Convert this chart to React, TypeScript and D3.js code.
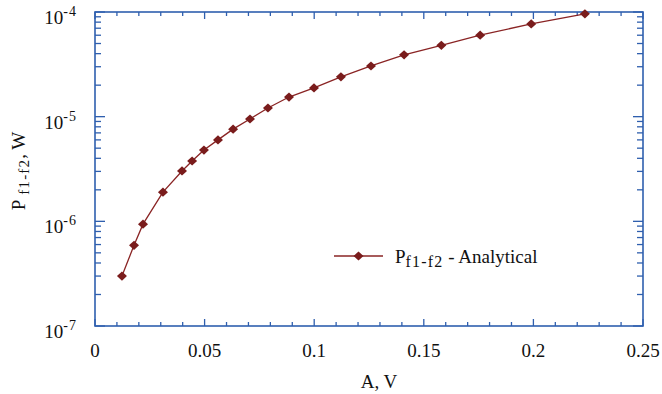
import React from "react";
import * as d3 from "d3";

// Data
const amplitudeV = [0.0123, 0.0178, 0.0219, 0.031, 0.0397, 0.0443, 0.0497, 0.0561, 0.063, 0.0707, 0.0789, 0.0885, 0.0999, 0.1122, 0.1259, 0.141, 0.158, 0.1757, 0.199, 0.2235];
const powerW = [3.0e-7, 5.9e-7, 9.4e-7, 1.9e-6, 3.03e-6, 3.77e-6, 4.8e-6, 6.0e-6, 7.6e-6, 9.5e-6, 1.21e-5, 1.54e-5, 1.88e-5, 2.4e-5, 3.05e-5, 3.9e-5, 4.8e-5, 6.0e-5, 7.7e-5, 9.6e-5];
const xTickValues = [0, 0.05, 0.1, 0.15, 0.2, 0.25];
const xTickLabels = ["0", "0.05", "0.1", "0.15", "0.2", "0.25"];
const yTickExponents = [-7, -6, -5, -4];
const yTickLabels = ["-7", "-6", "-5", "-4"];
const legendLabel = ["P", "f1-f2", " - Analytical"];

const W = 662;
const H = 394;
const left = 95, right = 643, top = 12, bottom = 326;
const AXIS = "#2f5fae";
const LINE = "#8a2424";
const MARK = "#7a1c1c";
const FONT = "Liberation Serif, Times New Roman, serif";

const diamond = (cx: number, cy: number, hw = 5, hh = 4.6) =>
  `M${cx},${cy - hh}L${cx + hw},${cy}L${cx},${cy + hh}L${cx - hw},${cy}Z`;

export default function App() {
  const x = d3.scaleLinear().domain([0, 0.25]).range([left, right]);
  const y = d3.scaleLog().domain([1e-7, 1e-4]).range([bottom, top]);

  const pts = amplitudeV.map((a, i) => [a, powerW[i]] as [number, number]);
  const line = d3.line<[number, number]>().x((d) => x(d[0])).y((d) => y(d[1]));

  const xMinor = d3.range(0, 26).map((i) => i / 100).filter((v) => Math.round(v * 100) % 5 !== 0);
  const yMinor: number[] = [];
  for (let k = -7; k < -4; k++) for (let m = 2; m <= 9; m++) yMinor.push(m * Math.pow(10, k));

  const legY = 256;
  const legX0 = 334, legX1 = 383;

  return (
    <svg width={W} height={H} style={{ position: "absolute", left: 0, top: 0, background: "#fff", fontFamily: FONT }}>
      <rect x={0} y={0} width={W} height={H} fill="#fff" />
      {/* ticks */}
      <g stroke={AXIS} strokeWidth={1.3}>
        {xTickValues.map((v) => (
          <g key={"xM" + v}>
            <line x1={x(v)} x2={x(v)} y1={bottom} y2={bottom - 7} />
            <line x1={x(v)} x2={x(v)} y1={top} y2={top + 7} />
          </g>
        ))}
        {xMinor.map((v) => (
          <g key={"xm" + v}>
            <line x1={x(v)} x2={x(v)} y1={bottom} y2={bottom - 4} />
            <line x1={x(v)} x2={x(v)} y1={top} y2={top + 4} />
          </g>
        ))}
        {yTickExponents.map((e) => (
          <g key={"yM" + e}>
            <line x1={left} x2={left + 10} y1={y(Math.pow(10, e))} y2={y(Math.pow(10, e))} />
            <line x1={right} x2={right - 10} y1={y(Math.pow(10, e))} y2={y(Math.pow(10, e))} />
          </g>
        ))}
        {yMinor.map((v, i) => (
          <g key={"ym" + i}>
            <line x1={left} x2={left + 6} y1={y(v)} y2={y(v)} />
            <line x1={right} x2={right - 6} y1={y(v)} y2={y(v)} />
          </g>
        ))}
      </g>
      <rect x={left} y={top} width={right - left} height={bottom - top} fill="none" stroke={AXIS} strokeWidth={1.6} />

      {/* x tick labels */}
      {xTickValues.map((v, i) => (
        <text key={"xl" + v} x={x(v)} y={357} textAnchor="middle" fontSize={19} fill="#111">
          {xTickLabels[i]}
        </text>
      ))}
      {/* y tick labels */}
      {yTickExponents.map((e, i) => (
        <text key={"yl" + e} x={77} y={y(Math.pow(10, e)) + 12} textAnchor="end" fontSize={19} fill="#111">
          10
          <tspan dy={-8} fontSize={14} letterSpacing={1}>{yTickLabels[i]}</tspan>
        </text>
      ))}

      {/* axis titles */}
      <text x={379} y={388} textAnchor="middle" fontSize={19} fill="#111">A, V</text>
      <text transform="translate(25,171) rotate(-90)" textAnchor="middle" fontSize={19} fill="#111">
        P
        <tspan dy={4} fontSize={15} letterSpacing={1.2}>{" f1-f2"}</tspan>
        <tspan dy={-4}>, W</tspan>
      </text>

      {/* data */}
      <path d={line(pts) || ""} fill="none" stroke={LINE} strokeWidth={1.3} />
      {pts.map((d, i) => (
        <path key={"pt" + i} d={diamond(x(d[0]), y(d[1]))} fill={MARK} />
      ))}

      {/* legend */}
      <line x1={legX0} x2={legX1} y1={legY} y2={legY} stroke={LINE} strokeWidth={1.3} />
      <path d={diamond((legX0 + legX1) / 2, legY)} fill={MARK} />
      <text x={395} y={263} fontSize={19} fill="#111">
        {legendLabel[0]}
        <tspan dy={4} fontSize={16} letterSpacing={1.2}>{legendLabel[1]}</tspan>
        <tspan dy={-4}>{legendLabel[2]}</tspan>
      </text>
    </svg>
  );
}
